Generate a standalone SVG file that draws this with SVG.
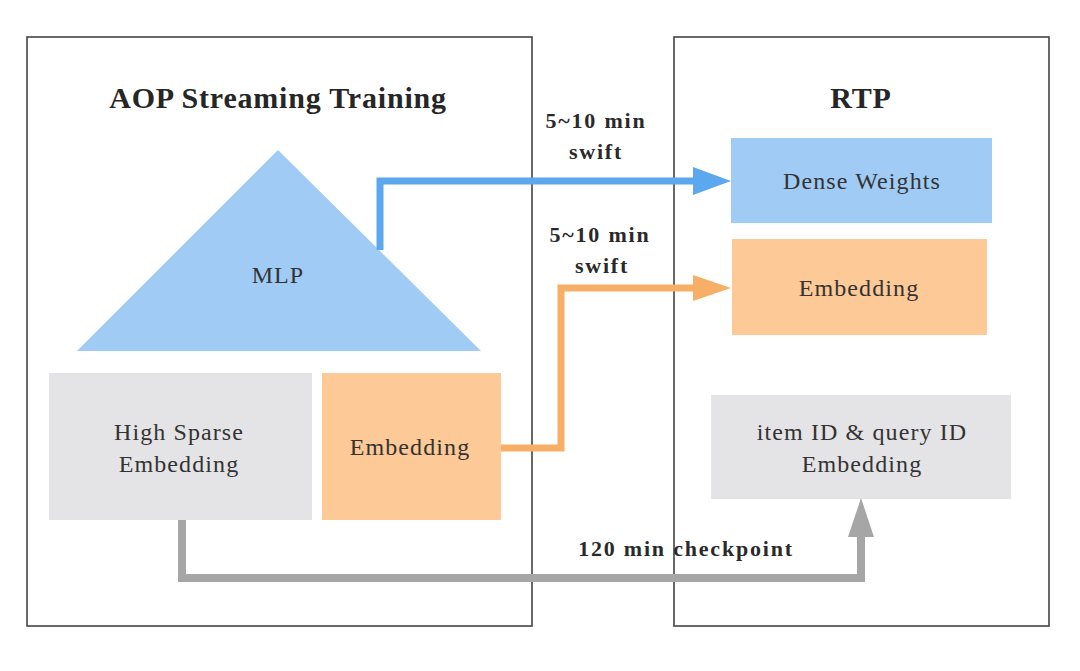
<svg xmlns="http://www.w3.org/2000/svg" width="1080" height="671" viewBox="0 0 1080 671">
<style>
.frame{fill:none;stroke:#444;stroke-width:1.6}
.title{font-family:"Liberation Serif",serif;font-weight:bold;font-size:30px;fill:#262626;text-anchor:middle;letter-spacing:0.8px}
.lbl{font-family:"Liberation Serif",serif;font-size:24px;fill:#333;text-anchor:middle;letter-spacing:1.1px}
.elbl{font-family:"Liberation Serif",serif;font-weight:bold;font-size:22px;fill:#2a2a2a;text-anchor:middle;letter-spacing:1.8px}
.conn{fill:none;stroke-linejoin:miter}
</style>
<defs>
<marker id="ah-blue" markerUnits="userSpaceOnUse" markerWidth="40" markerHeight="30" refX="2" refY="14" orient="auto"><path d="M0,0 L38,14 L0,28 z" fill="#5BA8EE"/></marker>
<marker id="ah-orange" markerUnits="userSpaceOnUse" markerWidth="40" markerHeight="30" refX="2" refY="13" orient="auto"><path d="M0,0 L38,13 L0,26 z" fill="#F7AE66"/></marker>
<marker id="ah-gray" markerUnits="userSpaceOnUse" markerWidth="42" markerHeight="30" refX="2" refY="13" orient="auto"><path d="M0,0 L39,13 L0,26 z" fill="#A6A6A6"/></marker>
</defs>
<rect width="1080" height="671" fill="#fff"/>
<g id="aop-frame">
<rect class="frame" x="27" y="37" width="505" height="589"/>
<text class="title" x="278" y="108">AOP Streaming Training</text>
</g>
<g id="rtp-frame">
<rect class="frame" x="674" y="37" width="375" height="589"/>
<text class="title" x="861" y="108">RTP</text>
</g>
<g id="mlp">
<polygon points="278,150 481,351 77,351" fill="#9FCBF5"/>
<text class="lbl" x="278" y="283">MLP</text>
</g>
<g id="high-sparse">
<rect x="49" y="373" width="263" height="147" fill="#E4E4E6"/>
<text class="lbl" x="179" y="440">High Sparse</text>
<text class="lbl" x="179" y="472">Embedding</text>
</g>
<g id="embedding-left">
<rect x="322" y="373" width="179" height="147" fill="#FCC997"/>
<text class="lbl" x="410" y="455">Embedding</text>
</g>
<g id="dense-weights">
<rect x="731" y="138" width="261" height="85" fill="#9FCBF5"/>
<text class="lbl" x="862" y="189">Dense Weights</text>
</g>
<g id="embedding-right">
<rect x="732" y="239" width="255" height="96" fill="#FCC997"/>
<text class="lbl" x="859" y="296">Embedding</text>
</g>
<g id="id-embedding">
<rect x="711" y="395" width="300" height="104" fill="#E4E4E6"/>
<text class="lbl" x="862" y="440">item ID &amp; query ID</text>
<text class="lbl" x="862" y="472">Embedding</text>
</g>
<g id="connectors">
<path class="conn" d="M380,250 L380,181 L695,181" stroke="#5BA8EE" stroke-width="7" marker-end="url(#ah-blue)"/>
<path class="conn" d="M501,448 L561,448 L561,288 L695,288" stroke="#F7AE66" stroke-width="7" marker-end="url(#ah-orange)"/>
<path class="conn" d="M182,520 L182,578 L861,578 L861,535" stroke="#A6A6A6" stroke-width="8" marker-end="url(#ah-gray)"/>
<text class="elbl" x="596" y="128">5~10 min</text>
<text class="elbl" x="596" y="159">swift</text>
<text class="elbl" x="600" y="242">5~10 min</text>
<text class="elbl" x="602" y="273">swift</text>
<text class="elbl" x="686" y="556">120 min checkpoint</text>
</g>
</svg>
